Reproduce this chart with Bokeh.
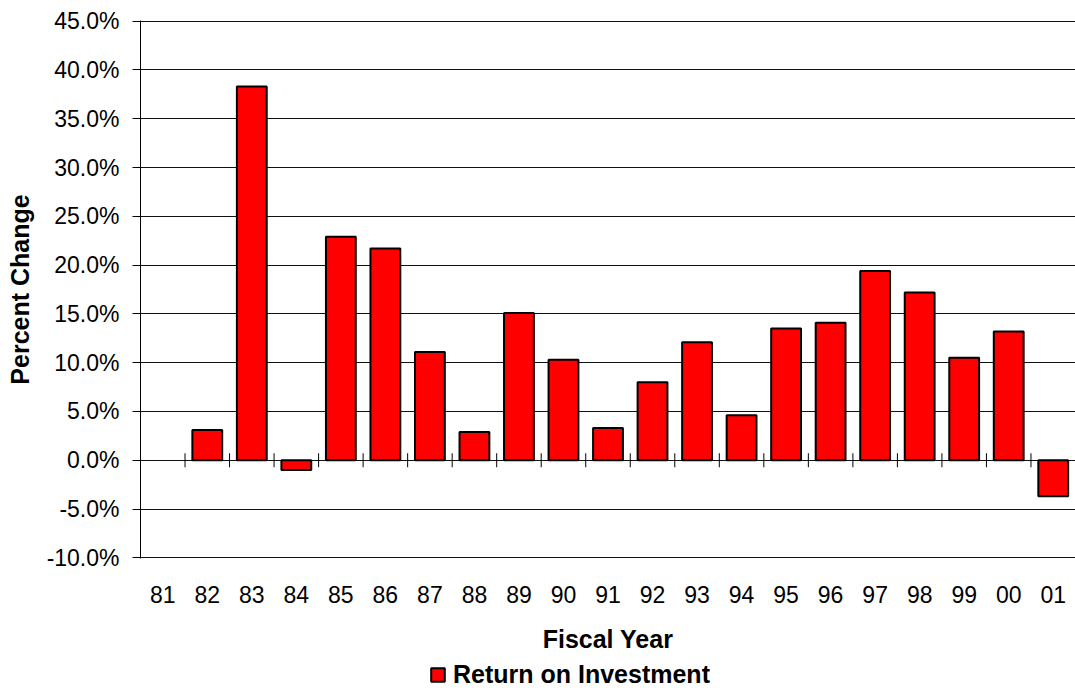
import math
from bokeh.plotting import figure
from bokeh.layouts import column
from bokeh.models import (ColumnDataSource, FactorRange, Range1d, FixedTicker,
                          PrintfTickFormatter, Legend, LegendItem)
from bokeh.transform import dodge
from bokeh.embed import file_html
from bokeh.resources import INLINE

# ---- data ----
years = ["81", "82", "83", "84", "85", "86", "87", "88", "89", "90", "91",
         "92", "93", "94", "95", "96", "97", "98", "99", "00", "01"]
roi = [float("nan"), 3.1, 38.3, -1.0, 22.9, 21.7, 11.1, 2.9, 15.1, 10.3, 3.3,
       8.0, 12.1, 4.6, 13.5, 14.1, 19.4, 17.2, 10.5, 13.2, -3.7]
y_ticks = [-10, -5, 0, 5, 10, 15, 20, 25, 30, 35, 40, 45]
series_name = "Return on Investment"
x_title = "Fiscal Year"
y_title = "Percent Change"

FONT = "Liberation Sans"
BAR_FILL = "#FF0000"
EDGE_PAD = 0.07  # tiny padding so the first/last grid lines are not clipped

source = ColumnDataSource(dict(year=years, roi=roi, zero=[0.0] * len(years)))

p = figure(x_range=FactorRange(*years),
           y_range=Range1d(min(y_ticks) - EDGE_PAD, max(y_ticks) + EDGE_PAD),
           width=1075, height=660, output_backend="svg", toolbar_location=None,
           min_border_left=140, min_border_right=0, min_border_top=20,
           min_border_bottom=102)
p.outline_line_color = None
p.background_fill_color = "white"

# grid
p.xgrid.grid_line_color = None
p.ygrid.ticker = FixedTicker(ticks=y_ticks)
p.ygrid.grid_line_color = "#111111"
p.ygrid.grid_line_width = 1

# bars
bar_style = dict(width=0.67, fill_color=BAR_FILL, line_color="black", line_width=2)
r = p.vbar(x="year", top="roi", bottom=0, source=source, **bar_style)

# category tick marks crossing the zero line
p.scatter(x=dodge("year", -0.5, range=p.x_range), y="zero", source=source,
          marker="dash", angle=math.pi / 2, size=14,
          line_color="black", line_width=1)

# y axis
yax = p.yaxis[0]
yax.ticker = FixedTicker(ticks=y_ticks)
yax.formatter = PrintfTickFormatter(format="%.1f%%")
yax.axis_line_color = "black"
yax.axis_line_width = 1
yax.major_tick_line_color = "black"
yax.major_tick_in = 0
yax.major_tick_out = 8
yax.minor_tick_line_color = None
yax.major_label_standoff = 13
yax.major_label_text_font = FONT
yax.major_label_text_font_size = "23px"
yax.major_label_text_color = "black"
yax.axis_label = y_title
yax.axis_label_text_font = FONT
yax.axis_label_text_font_style = "bold"
yax.axis_label_text_font_size = "25px"
yax.axis_label_text_color = "black"
yax.axis_label_standoff = 10

# x axis
xax = p.xaxis[0]
xax.axis_line_color = None
xax.major_tick_line_color = None
xax.major_tick_out = 0
xax.major_tick_in = 0
xax.major_label_standoff = 27
xax.major_label_text_font = FONT
xax.major_label_text_font_size = "23px"
xax.major_label_text_color = "black"
xax.axis_label = x_title
xax.axis_label_text_font = FONT
xax.axis_label_text_font_style = "bold"
xax.axis_label_text_font_size = "25px"
xax.axis_label_text_color = "black"
xax.axis_label_standoff = 19

# legend strip below the chart (its frame is aligned with the main frame)
lf = figure(width=1075, height=30, x_range=FactorRange(*years), y_range=Range1d(0, 1),
            x_axis_type=None, y_axis_type=None, output_backend="svg",
            toolbar_location=None, min_border_left=140, min_border_right=0,
            min_border_top=0, min_border_bottom=0)
lf.outline_line_color = None
lf.grid.visible = False
key = lf.vbar(x="year", top="roi", bottom=0, source=source, visible=False, **bar_style)
legend = Legend(items=[LegendItem(label=series_name, renderers=[key])],
                location=(289, 1), orientation="horizontal",
                border_line_color=None, background_fill_alpha=0,
                padding=0, margin=0, spacing=0,
                glyph_width=17, glyph_height=17, label_standoff=7,
                label_text_font=FONT, label_text_font_style="bold",
                label_text_font_size="25px", label_text_color="black")
lf.add_layout(legend, "center")

layout = column(p, lf, spacing=0)
open("out.html", "w").write(file_html(layout, INLINE))
